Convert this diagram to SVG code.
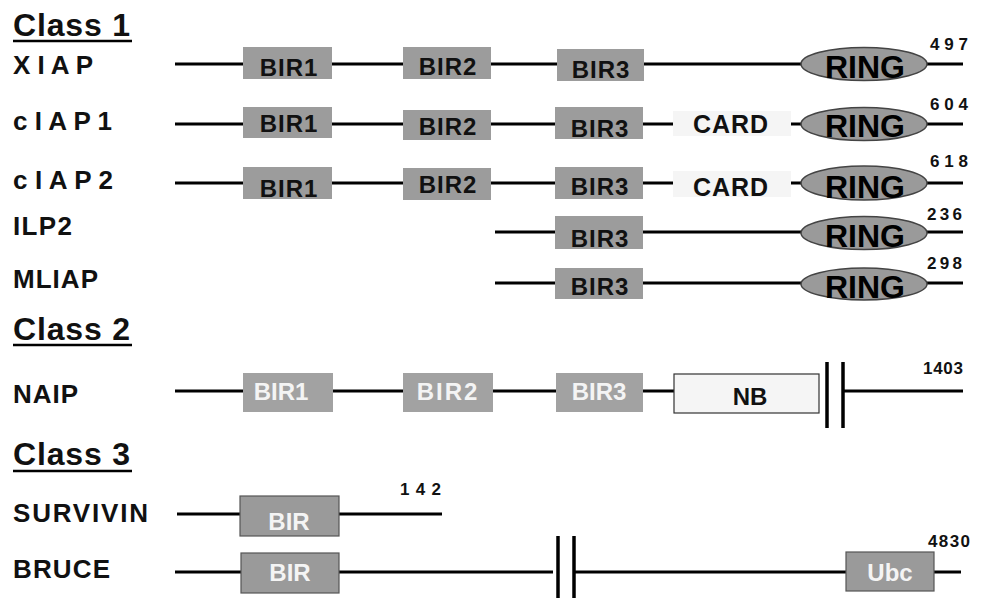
<svg xmlns="http://www.w3.org/2000/svg" width="981" height="598" viewBox="0 0 981 598">
<style>
text{font-family:"Liberation Sans",Arial,sans-serif;font-weight:bold;fill:#111}
.hd{font-size:32px}
.lb{font-size:26px}
.num{font-size:17px}
.bx{fill:#9c9c9c}
.bx2{fill:#a2a2a2}
.bx3{fill:#9a9a9a;stroke:#555;stroke-width:1.2}
.bt{font-size:24px;text-anchor:middle;letter-spacing:1px}
.wt{font-size:24px;text-anchor:middle;fill:#f4f4f4}
.ring{fill:#9a9a9a;stroke:#444;stroke-width:1.5}
.rt{font-size:32px;text-anchor:middle;fill:#000}
.card{fill:#f5f5f5}
.ct{font-size:25px;text-anchor:middle;letter-spacing:1px}
.ln{stroke:#000;stroke-width:3;fill:none}
.bar{stroke:#000;stroke-width:3.5}
.ul{stroke:#000;stroke-width:2.5}
</style>
<g id="headings">
<text class="hd" x="13" y="36" textLength="117" lengthAdjust="spacing">Class 1</text>
<line class="ul" x1="13" y1="41" x2="132" y2="41"/>
<text class="hd" x="13" y="340" textLength="117" lengthAdjust="spacing">Class 2</text>
<line class="ul" x1="13" y1="345" x2="132" y2="345"/>
<text class="hd" x="13" y="465" textLength="117" lengthAdjust="spacing">Class 3</text>
<line class="ul" x1="13" y1="471" x2="132" y2="471"/>
</g>
<g id="connectors">
<line class="ln" x1="175" y1="64" x2="963" y2="64"/>
<line class="ln" x1="175" y1="124" x2="963" y2="124"/>
<line class="ln" x1="175" y1="183" x2="963" y2="183"/>
<line class="ln" x1="495" y1="232" x2="963" y2="232"/>
<line class="ln" x1="495" y1="283" x2="963" y2="283"/>
<line class="ln" x1="175" y1="391" x2="676" y2="391"/>
<line class="ln" x1="843" y1="391" x2="963" y2="391"/>
<line class="bar" x1="827" y1="362" x2="827" y2="428"/>
<line class="bar" x1="843" y1="362" x2="843" y2="428"/>
<line class="ln" x1="177" y1="514" x2="442" y2="514"/>
<line class="ln" x1="175" y1="572" x2="553" y2="572"/>
<line class="ln" x1="574" y1="572" x2="961" y2="572"/>
<line class="bar" x1="558" y1="536" x2="558" y2="598"/>
<line class="bar" x1="574" y1="536" x2="574" y2="598"/>
</g>
<g id="XIAP">
<text class="lb" x="13" y="74" textLength="80" lengthAdjust="spacing">X I A P</text>
<rect class="bx" x="243" y="47" width="89" height="32"/><text class="bt" x="289" y="76">BIR1</text>
<rect class="bx" x="403" y="47" width="88" height="32"/><text class="bt" x="448" y="75">BIR2</text>
<rect class="bx" x="557" y="49" width="87" height="32"/><text class="bt" x="601" y="78">BIR3</text>
<ellipse class="ring" cx="864" cy="64" rx="63" ry="16.5"/><text class="rt" x="865" y="78">RING</text>
<text class="num" x="930" y="50" textLength="38" lengthAdjust="spacing">497</text>
</g>
<g id="cIAP1">
<text class="lb" x="13" y="130" textLength="99" lengthAdjust="spacing">c I A P 1</text>
<rect class="bx" x="243" y="107" width="89" height="31"/><text class="bt" x="289" y="132">BIR1</text>
<rect class="bx" x="403" y="110" width="88" height="30"/><text class="bt" x="448" y="135">BIR2</text>
<rect class="bx" x="555" y="107" width="88" height="32"/><text class="bt" x="600" y="137">BIR3</text>
<rect class="card" x="673" y="111" width="118" height="25"/><text class="ct" x="731" y="133">CARD</text>
<ellipse class="ring" cx="864" cy="124" rx="63" ry="16.5"/><text class="rt" x="865" y="137">RING</text>
<text class="num" x="930" y="110" textLength="38" lengthAdjust="spacing">604</text>
</g>
<g id="cIAP2">
<text class="lb" x="13" y="189" textLength="100" lengthAdjust="spacing">c I A P 2</text>
<rect class="bx" x="243" y="167" width="89" height="32"/><text class="bt" x="289" y="197">BIR1</text>
<rect class="bx" x="403" y="168" width="88" height="32"/><text class="bt" x="448" y="193">BIR2</text>
<rect class="bx" x="555" y="167" width="88" height="32"/><text class="bt" x="600" y="195">BIR3</text>
<rect class="card" x="673" y="171" width="118" height="26"/><text class="ct" x="731" y="196">CARD</text>
<ellipse class="ring" cx="864" cy="183" rx="63" ry="17"/><text class="rt" x="865" y="198">RING</text>
<text class="num" x="930" y="167" textLength="38" lengthAdjust="spacing">618</text>
</g>
<g id="ILP2">
<text class="lb" x="13" y="235" textLength="59" lengthAdjust="spacing">ILP2</text>
<rect class="bx" x="555" y="216" width="88" height="33"/><text class="bt" x="600" y="247">BIR3</text>
<ellipse class="ring" cx="864" cy="233" rx="63" ry="16.5"/><text class="rt" x="865" y="247">RING</text>
<text class="num" x="927" y="220" textLength="35" lengthAdjust="spacing">236</text>
</g>
<g id="MLIAP">
<text class="lb" x="13" y="288" textLength="85" lengthAdjust="spacing">MLIAP</text>
<rect class="bx" x="555" y="268" width="88" height="31"/><text class="bt" x="600" y="295">BIR3</text>
<ellipse class="ring" cx="864" cy="284" rx="63" ry="16"/><text class="rt" x="865" y="298">RING</text>
<text class="num" x="927" y="269" textLength="35" lengthAdjust="spacing">298</text>
</g>
<g id="NAIP">
<text class="lb" x="13" y="403" textLength="65" lengthAdjust="spacing">NAIP</text>
<rect class="bx2" x="243" y="373" width="90" height="39"/><text class="wt" x="281" y="400">BIR1</text>
<rect class="bx2" x="403" y="373" width="90" height="39"/><text class="wt" x="448" y="400" letter-spacing="2">BIR2</text>
<rect class="bx2" x="556" y="373" width="87" height="39"/><text class="wt" x="599" y="400">BIR3</text>
<rect x="674" y="374" width="145" height="39" fill="#f5f5f5" stroke="#333" stroke-width="1.2"/><text x="750" y="405" font-size="24" text-anchor="middle">NB</text>
<text class="num" x="923" y="374" textLength="40" lengthAdjust="spacing">1403</text>
</g>
<g id="SURVIVIN">
<text class="lb" x="13" y="522" textLength="135" lengthAdjust="spacing">SURVIVIN</text>
<rect class="bx3" x="240" y="496" width="99" height="40"/><text class="wt" x="289" y="530">BIR</text>
<text class="num" x="400" y="495" textLength="41" lengthAdjust="spacing">142</text>
</g>
<g id="BRUCE">
<text class="lb" x="13" y="578" textLength="97" lengthAdjust="spacing">BRUCE</text>
<rect class="bx3" x="241" y="553" width="98" height="40"/><text class="wt" x="290" y="581">BIR</text>
<rect class="bx3" x="846" y="552" width="88" height="39"/><text class="wt" x="890" y="581">Ubc</text>
<text class="num" x="928" y="547" textLength="42" lengthAdjust="spacing">4830</text>
</g>
</svg>
